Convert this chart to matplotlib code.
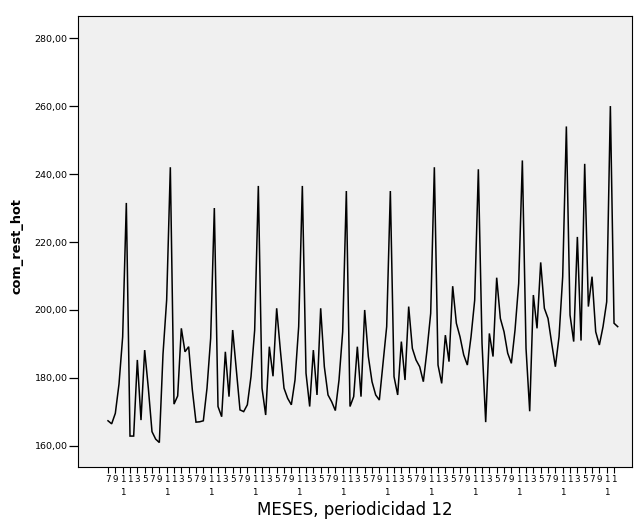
import matplotlib
matplotlib.use("Agg")
import matplotlib.pyplot as plt

# Monthly series com_rest_hot, starting in July (month 7)
start_month = 7
values = [
    167.4, 166.5, 169.6, 178.2, 192.1, 231.5,
    162.9, 162.9, 185.3, 167.6, 188.2, 177.0, 164.2, 162.0, 161.0, 187.0, 203.0, 242.0,
    172.3, 174.7, 194.6, 187.7, 189.2, 176.5, 167.0, 167.1, 167.4, 177.0, 191.7, 230.0,
    171.6, 168.6, 187.7, 174.5, 194.1, 182.4, 170.6, 170.1, 172.1, 180.4, 194.1, 236.5,
    177.0, 169.1, 189.2, 180.5, 200.5, 188.2, 177.0, 174.0, 172.1, 179.4, 195.1, 236.5,
    181.4, 171.6, 188.2, 175.0, 200.5, 183.3, 175.0, 173.0, 170.4, 179.4, 193.6, 235.0,
    171.6, 174.5, 189.2, 174.5, 200.0, 186.3, 178.9, 175.0, 173.5, 184.3, 195.1, 235.0,
    180.4, 175.0, 190.7, 179.4, 201.0, 188.7, 185.3, 183.3, 178.9, 188.2, 199.0, 242.0,
    183.8, 178.4, 192.6, 184.8, 207.0, 196.1, 192.1, 186.8, 183.8, 192.1, 202.9, 241.4,
    190.2, 167.0, 193.1, 186.3, 209.5, 197.5, 193.6, 187.3, 184.3, 194.1, 207.8, 244.0,
    188.7, 170.2, 204.4, 194.6, 214.0, 200.5, 197.5, 190.2, 183.3, 192.1, 209.8, 254.0,
    198.5, 190.7, 221.5, 191.0, 243.0, 201.0, 209.8, 193.6, 189.7, 195.1, 202.4, 260.0,
    196.1, 195.1,
]

# Tick text for each odd month (11 is wrapped on two lines)
month_tick_text = {7: "7", 9: "9", 11: "1\n1", 1: "1", 3: "3", 5: "5"}
y_ticks = [160, 180, 200, 220, 240, 260, 280]

x_title = "MESES, periodicidad 12"
y_title = "com_rest_hot"

W, H = 637, 523
fig = plt.figure(figsize=(W / 100, H / 100), dpi=100, facecolor="white")
plt.rcParams["font.family"] = ["DejaVu Sans"]

left, right, top, bottom = 78, 632, 16, 467
ax = fig.add_axes([left / W, 1 - bottom / H, (right - left) / W, (bottom - top) / H])
ax.set_facecolor("#f0f0f0")

idx = list(range(len(values)))
months = [((start_month - 1 + i) % 12) + 1 for i in idx]

ax.plot(idx, values, color="black", linewidth=1.1, solid_joinstyle="miter")

ax.set_xlim(-8.18, 142.9)
ax.set_ylim(153.8, 286.5)

tick_pos = [i for i in idx if months[i] % 2 == 1]
ax.set_xticks(tick_pos)
ax.set_xticklabels([month_tick_text[months[i]] for i in tick_pos],
                   fontsize=6.3, linespacing=1.5, va="top")
ax.tick_params(axis="x", length=4, width=0.8, pad=2.0, colors="black")

ax.set_yticks(y_ticks)
ax.set_yticklabels([f"{v:.2f}".replace(".", ",") for v in y_ticks], fontsize=6.8)
ax.tick_params(axis="y", length=6.8, width=0.9, pad=0.8, colors="black")

for s in ax.spines.values():
    s.set_color("black")
    s.set_linewidth(0.8)

ax.set_xlabel(x_title, fontsize=12, va="center")
ax.xaxis.set_label_coords(0.5, (bottom - 510) / (bottom - top))
ax.set_ylabel(y_title, fontsize=9.3, fontweight="bold", va="center")
ax.yaxis.set_label_coords((17 - left) / (right - left), (bottom - 246) / (bottom - top))

fig.savefig("out.png", dpi=100, facecolor="white")
